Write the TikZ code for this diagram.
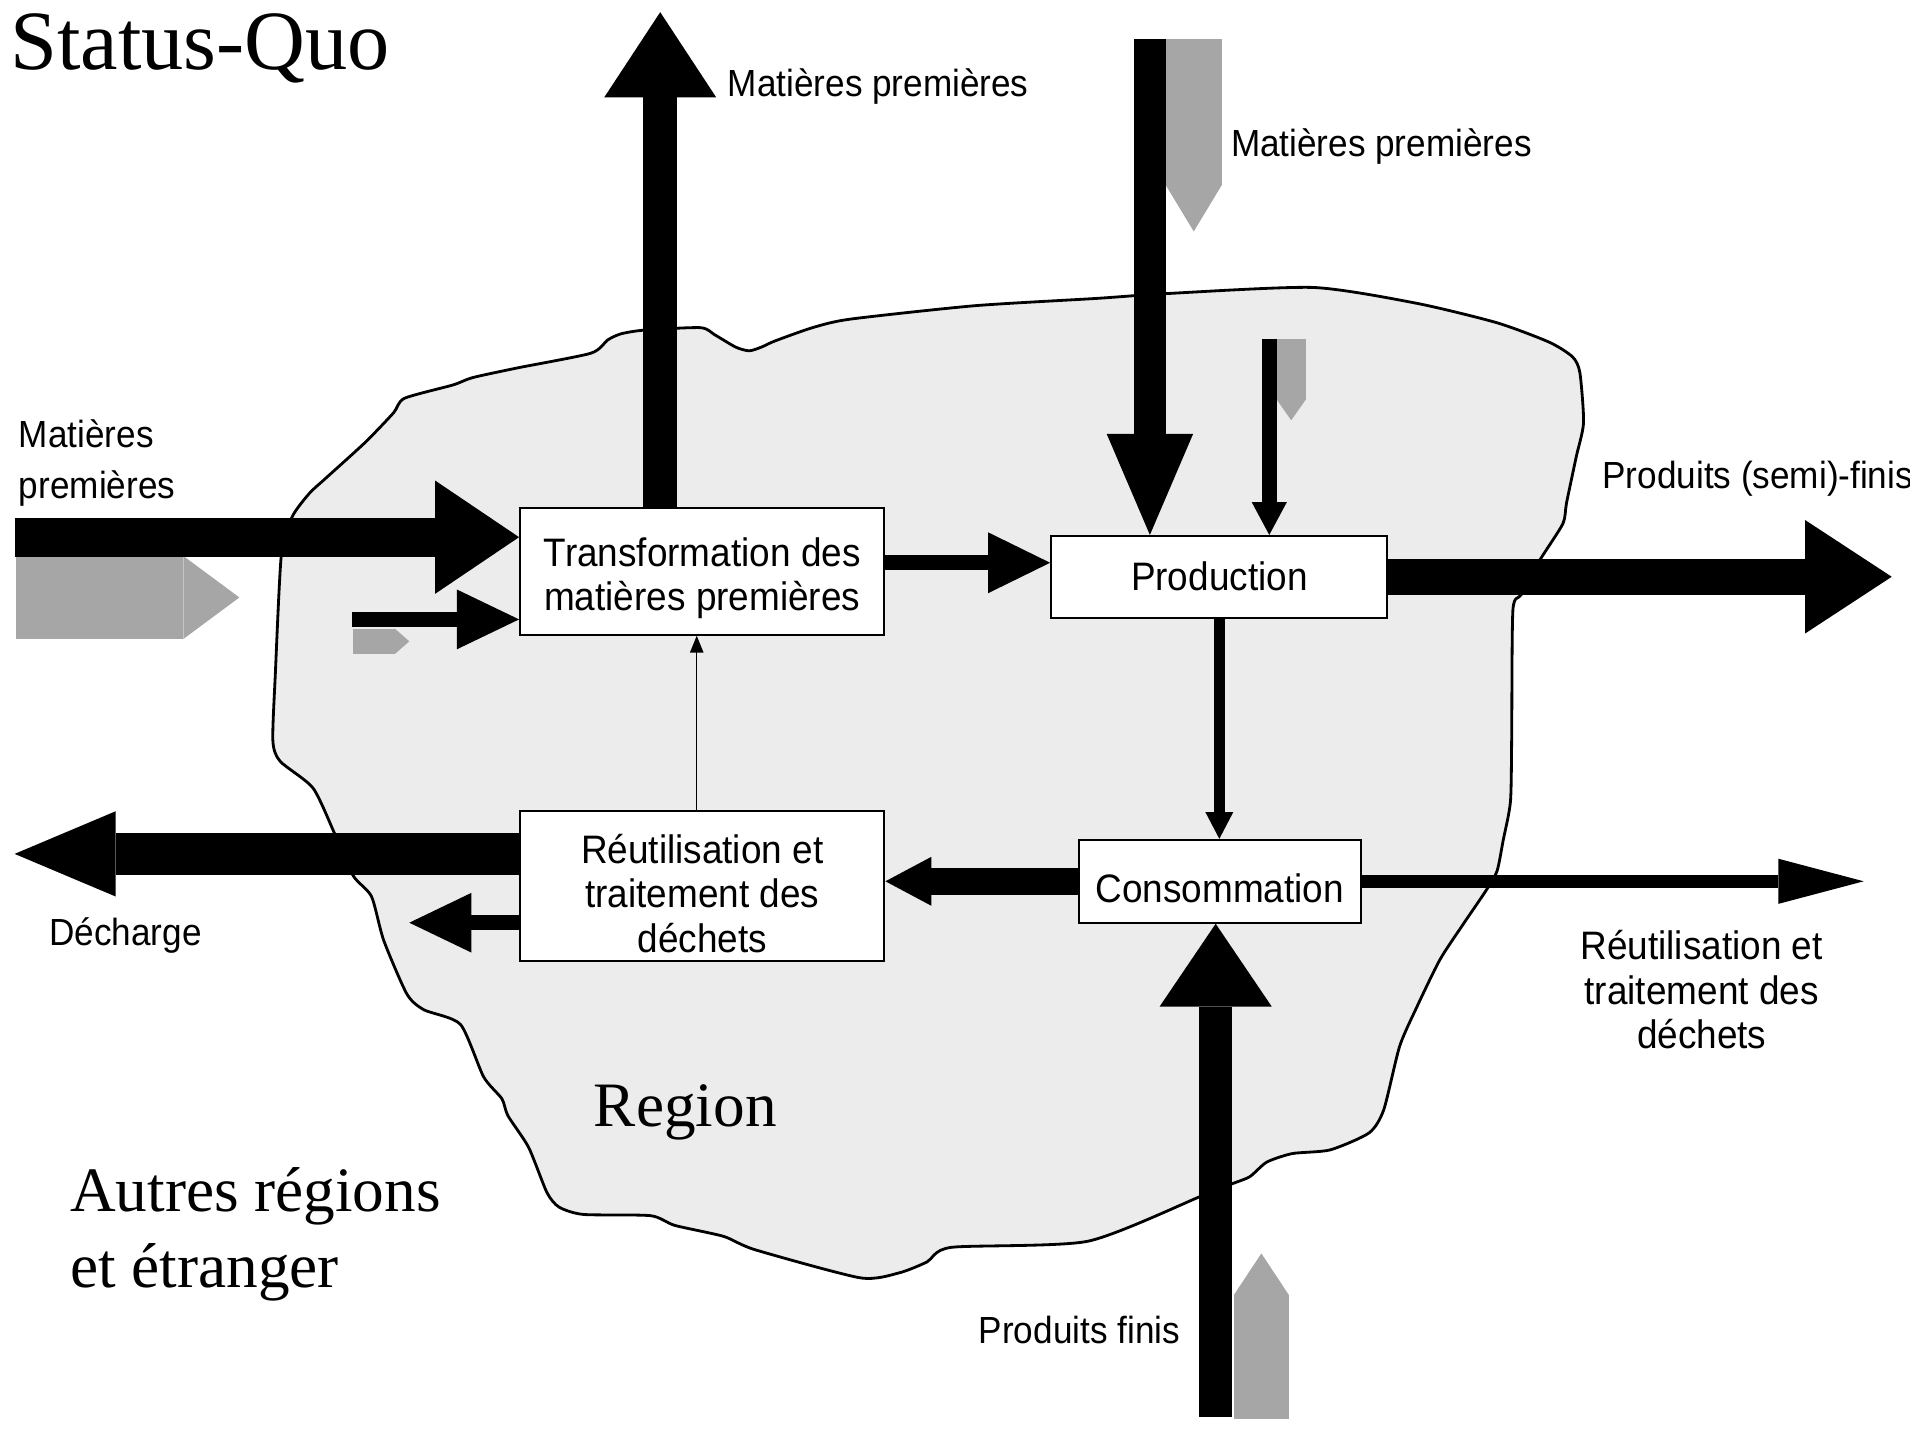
\documentclass[tikz,border=0pt]{standalone}
\usepackage{fontspec}
\setmainfont{Liberation Serif}
\newfontfamily\labelfont[FakeStretch=0.93]{Liberation Sans}
\usetikzlibrary{arrows.meta,calc}
\definecolor{regiongray}{HTML}{ECECEC}
\definecolor{flowgray}{HTML}{A6A6A6}

\begin{document}
\begin{tikzpicture}[x=0.12181mm, y=-0.12181mm,
    box/.style={draw, fill=white, line width=0.6pt, inner sep=0pt, align=center,
        font=\labelfont\fontsize{11.3pt}{12.6pt}\selectfont},
    lbl/.style={inner sep=0pt, font=\labelfont\fontsize{10.75pt}{12.6pt}\selectfont},
    flow/.style n args={3}{line width=#1, -{Triangle[length=#2, width=#3, line width=0pt]}},
    greyflow/.style n args={3}{flowgray, line width=#1, -{Triangle[length=#2, width=#3, line width=0pt, fill=flowgray]}}]
        \useasboundingbox (0,0) rectangle (1568,1179);
        \draw[fill=regiongray, line width=0.8pt] plot[smooth cycle, tension=0.4] coordinates {
            (240,424) (254,405) (267,393) (300,363) (323,339) (332,327) (372,316) (388,310)
            (425,302) (485,290) (499,279) (510,274) (529,271) (575,269) (587,275) (604,285)
            (615,288) (625,285) (636,280) (667,269) (698,262) (800,251) (900,245) (958,241)
            (1078,236) (1163,249) (1229,265) (1272,281) (1291,293) (1297,306) (1300,347)
            (1294,375) (1286,413) (1283,430) (1264,460) (1249,488) (1242,501) (1241,606)
            (1240,658) (1234,690) (1229,715) (1220,731) (1201,759) (1182,788) (1163,827)
            (1149,859) (1136,911) (1124,930) (1092,944) (1061,947) (1040,954) (1026,966)
            (1011,972) (986,982) (893,1019) (781,1024) (761,1036) (738,1045) (706,1049)
            (620,1026) (594,1015) (554,1006) (534,998) (479,997) (459,991) (449,979)
            (434,942) (417,916) (412,902) (397,884) (378,841) (348,829) (334,816) (315,772)
            (305,736) (290,719) (275,685) (257,647) (230,625) (224,608) (226,554) (231,455)};

        \node[box, minimum width=36.42mm, minimum height=12.67mm] (trans) at (576.5,469) {\rule{0pt}{12pt}Transformation des\\matières premières};
        \node[box, minimum width=33.62mm, minimum height=8.16mm] (prod) at (1001,473.5) {Production};
        \node[box, minimum width=36.42mm, minimum height=14.98mm] (reu) at (576.5,727.5) {\rule{0pt}{12.4pt}Réutilisation et\\traitement des\\déchets};
        \node[box, minimum width=28.20mm, minimum height=8.28mm] (cons) at (1001.3,723.5) {\rule{0pt}{12pt}Consommation};

        \coordinate (inraw) at (12,441);
        \coordinate (insmall) at (289,508.5);
        \coordinate (outraw) at (542,10);
        \coordinate (inprod) at (944,32);
        \coordinate (inprodsmall) at (1042,278);
        \coordinate (tp) at ($(trans.east)+(0,-7)$);
        \coordinate (outsemi) at (1553,473.5);
        \coordinate (outwaste) at (1530,723.5);
        \coordinate (infinished) at (998,1163);
        \coordinate (dump) at (12,701);
        \coordinate (dumpsmall) at (336,757.5);

        \draw[greyflow={8.30mm}{5.6mm}{8.30mm}] (13,490.5) -- (196.5,490.5);
        \draw[greyflow={2.56mm}{1.46mm}{2.56mm}] (289.5,526.5) -- (336,526.5);
        \draw[greyflow={5.60mm}{4.63mm}{5.60mm}] (980,32) -- (980,190);
        \draw[greyflow={2.92mm}{2.07mm}{2.92mm}] (1060,278) -- (1060,345);
        \draw[greyflow={5.48mm}{4.14mm}{5.48mm}] (1035.5,1165) -- (1035.5,1029);

        \draw[flow={3.90mm}{8.40mm}{11.33mm}] (inraw) -- (inraw -| trans.west);
        \draw[flow={1.46mm}{6.21mm}{5.97mm}] (insmall) -- (insmall -| trans.west);
        \draw[flow={3.41mm}{8.53mm}{11.21mm}] (outraw |- trans.north) -- (outraw);
        \draw[flow={3.17mm}{10.11mm}{8.65mm}] (inprod) -- (inprod |- prod.north);
        \draw[flow={1.50mm}{3.29mm}{3.53mm}] (inprodsmall) -- (inprodsmall |- prod.north);
        \draw[flow={1.46mm}{6.21mm}{6.09mm}] (tp) -- (tp -| prod.west);
        \draw[flow={3.65mm}{8.65mm}{11.33mm}] (prod.east) -- (outsemi);
        \draw[flow={1.10mm}{2.68mm}{2.80mm}] (prod.south) -- (prod.south |- cons.north);
        \draw[flow={2.68mm}{4.6mm}{4.9mm}] (cons.west) -- (cons.west -| reu.east);
        \draw[flow={1.34mm}{8.53mm}{4.51mm}] (cons.east) -- (outwaste);
        \draw[flow={3.29mm}{8.28mm}{11.21mm}] (infinished) -- (infinished |- cons.south);
        \draw[flow={4.14mm}{10.11mm}{8.53mm}] (dump -| reu.west) -- (dump);
        \draw[flow={1.46mm}{6.21mm}{5.97mm}] (dumpsmall -| reu.west) -- (dumpsmall);
        \draw[line width=0.4pt, -{Triangle[length=1.7mm, width=1.34mm]}] ([xshift=-0.55mm]reu.north) -- ([xshift=-0.55mm]trans.south);

        \node[anchor=base west, inner sep=0pt, font=\fontsize{24pt}{28pt}\selectfont] (title) at (8,57) {Status-Quo};
        \node[anchor=base west, inner sep=0pt, font=\fontsize{18pt}{21.5pt}\selectfont] (region) at (487,925) {Region};
        \node[anchor=west, inner sep=0pt, align=left, font=\fontsize{18pt}{21.5pt}\selectfont] (others) at (57,1013.5) {Autres régions\\et étranger};
        \node[lbl, anchor=west] (rawtop) at (597,71) {Matières premières};
        \node[lbl, anchor=west] (rawright) at (1010,120) {Matières premières};
        \node[lbl, anchor=west, align=left, font=\labelfont\fontsize{10.75pt}{14.5pt}\selectfont] (rawleft) at (15,380) {Matières\\premières};
        \node[lbl, anchor=west] (semi) at (1315,393) {Produits (semi)-finis};
        \node[lbl, align=center, font=\labelfont\fontsize{11.3pt}{12.6pt}\selectfont] (waste) at (1397,812.5) {Réutilisation et\\traitement des\\déchets};
        \node[lbl, anchor=west] (finished) at (803,1092) {Produits finis};
        \node[lbl, anchor=west] (landfill) at (40,768) {Décharge};
    \end{tikzpicture}
\end{document}
